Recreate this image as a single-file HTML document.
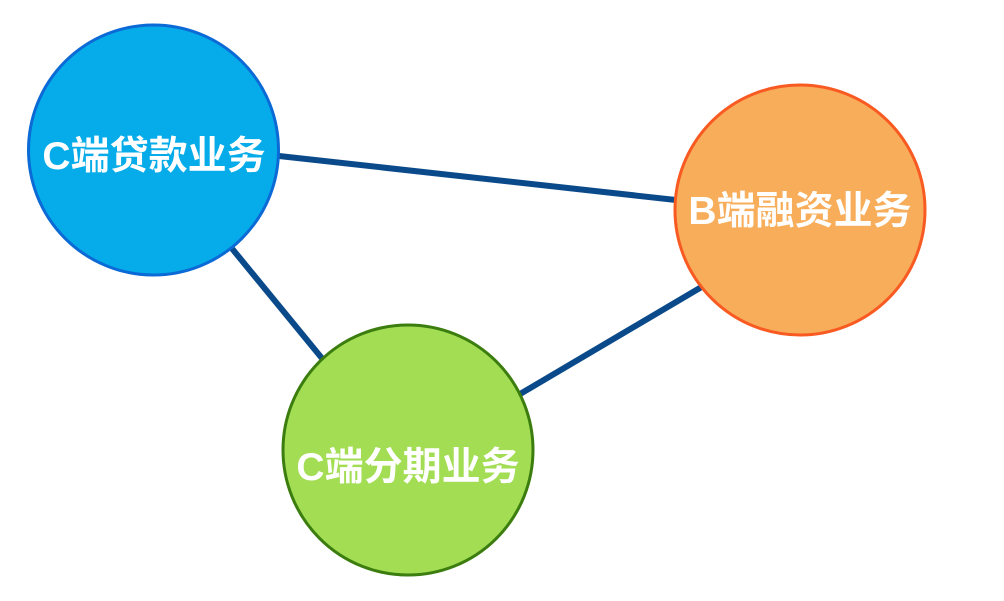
<!DOCTYPE html>
<html><head><meta charset="utf-8"><style>
html,body{margin:0;padding:0;background:#fff;}
svg{display:block}
text{font-family:"Liberation Sans","Noto Sans CJK SC",sans-serif;font-weight:bold;fill:#fff;font-size:39px;}
</style></head><body>
<svg width="1004" height="601" viewBox="0 0 1004 601">
<g stroke="#0b4a8a" stroke-width="6" stroke-linecap="butt">
<line x1="270" y1="155" x2="685" y2="201"/>
<line x1="225" y1="240" x2="325" y2="362"/>
<line x1="515" y1="397" x2="710" y2="282"/>
</g>
<circle cx="153.5" cy="150" r="125" fill="#05ace9" stroke="#0b6ad6" stroke-width="3"/>
<circle cx="800" cy="210" r="125" fill="#f8ad5a" stroke="#f85a22" stroke-width="3"/>
<circle cx="408" cy="450" r="125" fill="#a2dd53" stroke="#3b7d0e" stroke-width="3"/>
<text x="154" y="169" text-anchor="middle">C端贷款业务</text>
<text x="800" y="224" text-anchor="middle">B端融资业务</text>
<text x="408" y="480" text-anchor="middle">C端分期业务</text>
</svg>
</body></html>
